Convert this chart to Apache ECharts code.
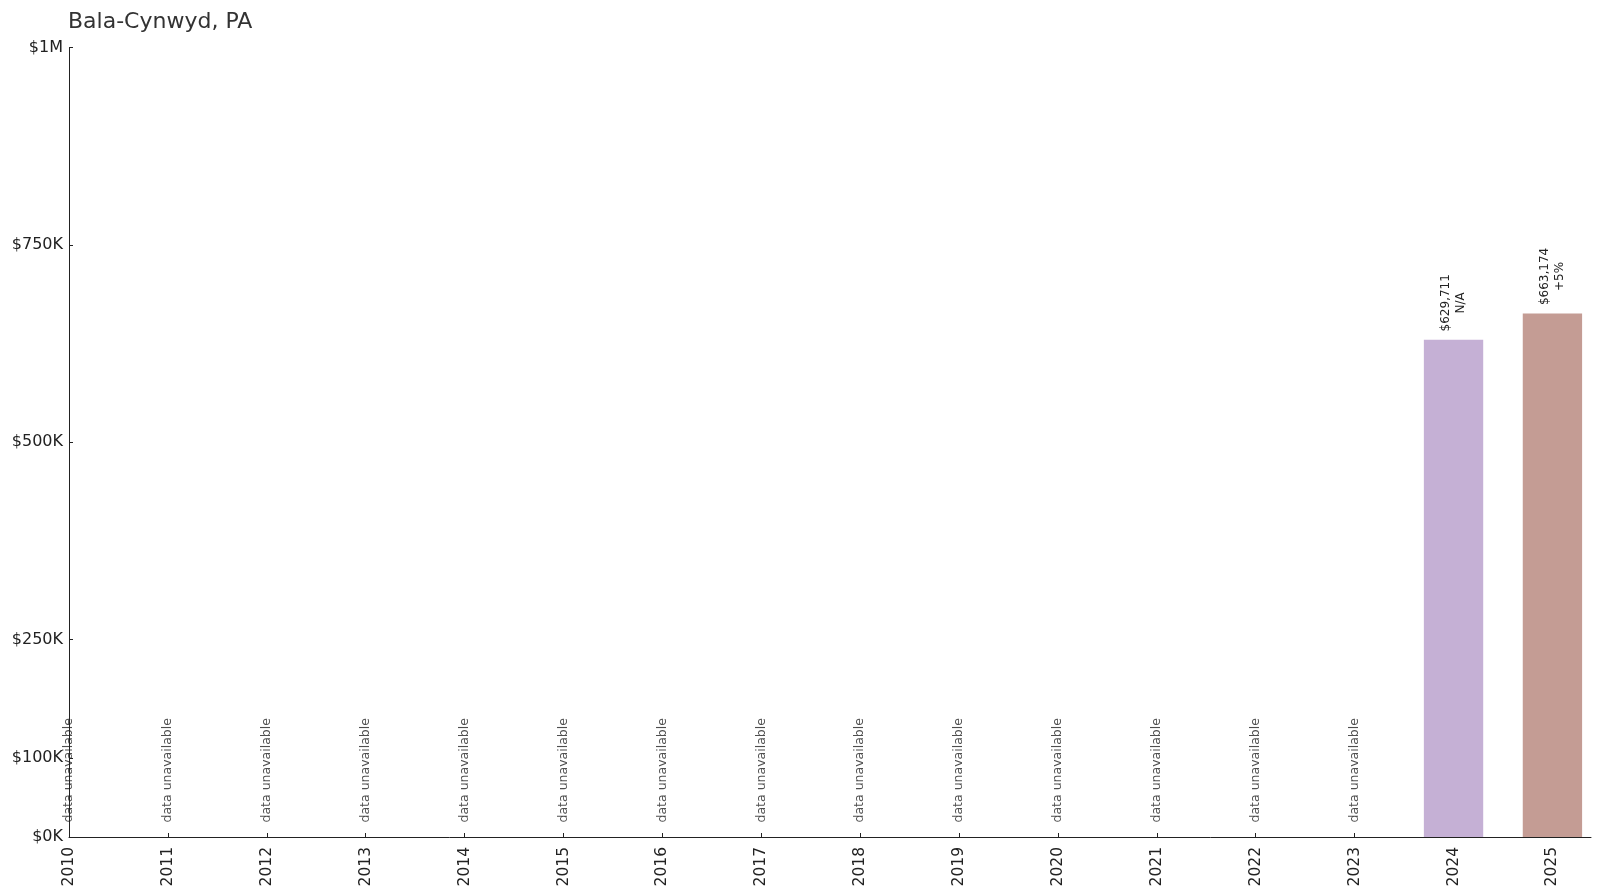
<!DOCTYPE html>
<html>
<head>
<meta charset="utf-8">
<style>
  html, body { margin: 0; padding: 0; background: #fff; }
  #chart { width: 1600px; height: 895px; }
</style>
<script src="https://cdn.jsdelivr.net/npm/echarts@6/dist/echarts.min.js"></script>
</head>
<body>
<div id="chart"></div>
<script>
const titleText = 'Bala-Cynwyd, PA';
const years = [2010, 2011, 2012, 2013, 2014, 2015, 2016, 2017, 2018, 2019, 2020, 2021, 2022, 2023, 2024, 2025];
const prices = [null, null, null, null, null, null, null, null, null, null, null, null, null, null, 629711, 663174];
const priceLabels = ['', '', '', '', '', '', '', '', '', '', '', '', '', '', '$629,711', '$663,174'];
const changeLabels = ['', '', '', '', '', '', '', '', '', '', '', '', '', '', 'N/A', '+5%'];
const yTickValues = [0, 100000, 250000, 500000, 750000, 1000000];
const yTickLabels = ['$0K', '$100K', '$250K', '$500K', '$750K', '$1M'];
const missingText = 'data unavailable';

const barColors = { 2024: '#c5b0d5', 2025: '#c49c94' };
const FONT = 'DejaVu Sans';

const barData = [];
const missingData = [];
years.forEach((y, i) => {
  if (prices[i] == null) {
    missingData.push([y, 0]);
  } else {
    barData.push({
      value: [y, prices[i]],
      itemStyle: { color: barColors[y] },
      label: { formatter: priceLabels[i] + '\n' + changeLabels[i] }
    });
  }
});

const chart = echarts.init(document.getElementById('chart'), null, { renderer: 'canvas' });
chart.setOption({
  animation: false,
  backgroundColor: '#ffffff',
  textStyle: { fontFamily: FONT },
  title: {
    text: titleText,
    left: 63,
    top: 6,
    textStyle: { fontFamily: FONT, fontSize: 22, fontWeight: 'normal', color: '#333333' }
  },
  grid: { left: 69, right: 9, top: 47.5, bottom: 58, containLabel: false },
  xAxis: {
    type: 'value',
    min: 2010,
    max: 2025.39,
    splitLine: { show: false },
    axisLine: { show: true, lineStyle: { color: '#222222', width: 1 } },
    axisTick: { show: true, inside: true, length: 4, customValues: years, lineStyle: { color: '#222222' } },
    axisLabel: {
      customValues: years,
      rotate: 90,
      margin: 10,
      fontFamily: FONT,
      fontSize: 15.5,
      color: '#222222',
      formatter: v => String(v)
    }
  },
  yAxis: {
    type: 'value',
    min: 0,
    max: 1000000,
    splitLine: { show: false },
    axisLine: { show: true, lineStyle: { color: '#222222', width: 1 } },
    axisTick: { show: true, inside: true, length: 4, customValues: yTickValues, lineStyle: { color: '#222222' } },
    axisLabel: {
      customValues: yTickValues,
      margin: 6,
      fontFamily: FONT,
      fontSize: 16,
      color: '#222222',
      formatter: v => {
        const idx = yTickValues.indexOf(v);
        return idx >= 0 ? yTickLabels[idx] : '';
      }
    }
  },
  series: [
    {
      type: 'bar',
      barWidth: '60%',
      data: barData,
      label: {
        show: true,
        position: 'top',
        distance: 37,
        rotate: 90,
        align: 'center',
        verticalAlign: 'middle',
        fontFamily: FONT,
        fontSize: 12,
        lineHeight: 15,
        color: '#222222'
      }
    },
    {
      type: 'scatter',
      symbolSize: 1,
      itemStyle: { color: 'rgba(0,0,0,0)' },
      data: missingData,
      z: 5,
      label: {
        show: true,
        formatter: missingText,
        position: 'top',
        distance: 14,
        rotate: 90,
        align: 'left',
        verticalAlign: 'middle',
        fontFamily: FONT,
        fontSize: 12.5,
        color: '#222222'
      }
    }
  ]
});
</script>
</body>
</html>
